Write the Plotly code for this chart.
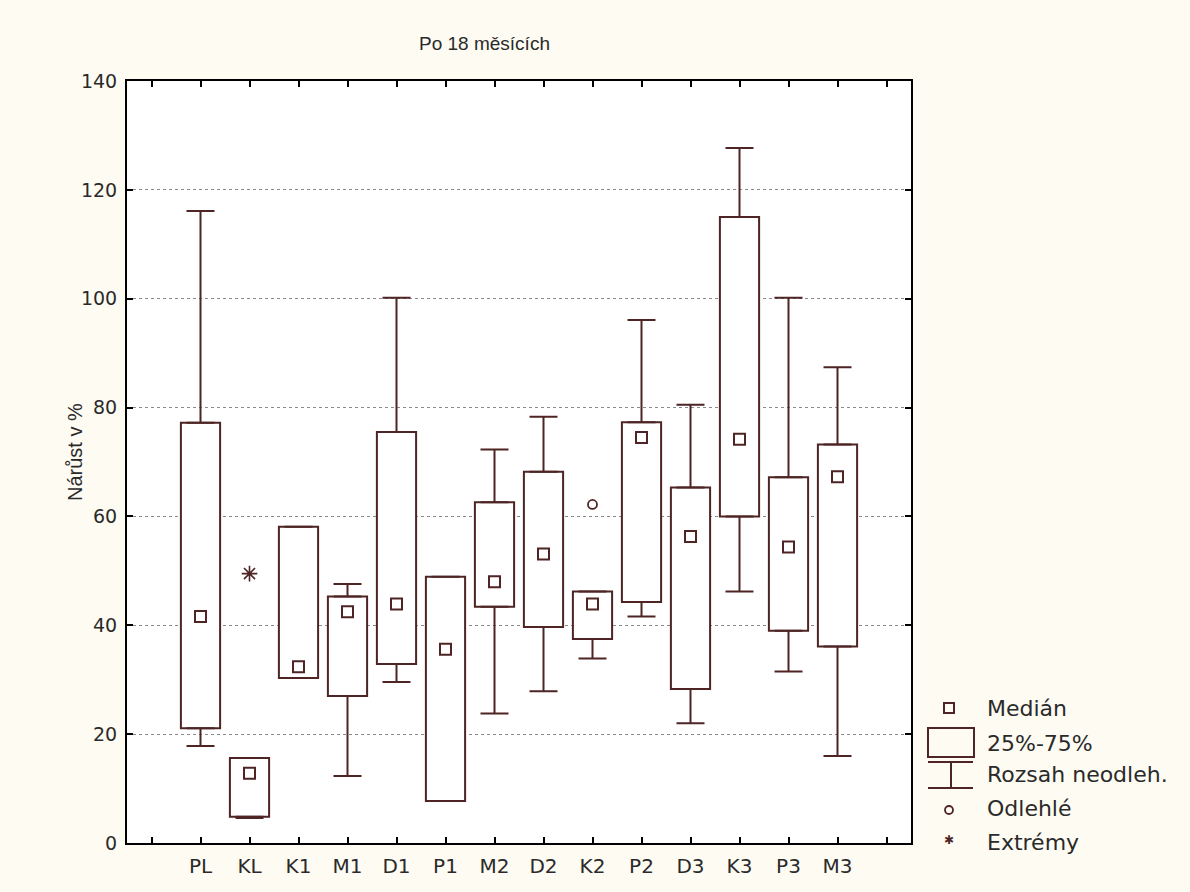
import plotly.graph_objects as go

# Box-plot summary per group: growth after 18 months (%)
categories = ["PL", "KL", "K1", "M1", "D1", "P1", "M2", "D2", "K2", "P2", "D3", "K3", "P3", "M3"]
medians = [41.6, 12.8, 32.4, 42.5, 43.9, 35.6, 48.0, 53.1, 43.9, 74.5, 56.3, 74.2, 54.4, 67.3]
q1 = [21.1, 4.8, 30.3, 27.0, 32.9, 7.7, 43.4, 39.7, 37.5, 44.3, 28.3, 60.0, 39.0, 36.1]
q3 = [77.2, 15.6, 58.1, 45.3, 75.5, 48.9, 62.6, 68.2, 46.2, 77.3, 65.3, 115.0, 67.2, 73.2]
whisker_low = [17.8, 4.6, 30.3, 12.3, 29.6, 7.7, 23.8, 27.9, 33.9, 41.6, 22.0, 46.2, 31.5, 16.0]
whisker_high = [116.1, 15.6, 58.1, 47.6, 100.2, 48.9, 72.3, 78.3, 46.2, 96.1, 80.5, 127.7, 100.2, 87.4]
outlier_groups = ["K2"]
outlier_values = [62.2]
extreme_groups = ["KL"]
extreme_values = [49.5]

y_ticks = [0, 20, 40, 60, 80, 100, 120, 140]
legend_labels = ["Medián", "25%-75%", "Rozsah neodleh.", "Odlehlé", "Extrémy"]

LINE = "#4e2424"
FONT = "DejaVu Sans"
TITLE_FONT = "Liberation Sans"
TEXT = "#2a2a2a"

pos = list(range(len(categories)))
pos_of = {c: i for i, c in enumerate(categories)}

fig = go.Figure()

# interquartile boxes
fig.add_trace(go.Bar(
    x=pos, y=[b - a for a, b in zip(q1, q3)], base=q1, width=0.8,
    marker=dict(color="white", line=dict(color=LINE, width=2)),
    hoverinfo="skip", showlegend=False,
))

transparent = dict(color="rgba(0,0,0,0)", size=1)
# upper whiskers
fig.add_trace(go.Scatter(
    x=pos, y=q3, mode="markers", marker=transparent, showlegend=False, hoverinfo="skip",
    error_y=dict(type="data", symmetric=False,
                 array=[h - b for h, b in zip(whisker_high, q3)],
                 arrayminus=[0] * len(pos), width=14, thickness=2, color=LINE),
))
# lower whiskers
fig.add_trace(go.Scatter(
    x=pos, y=q1, mode="markers", marker=transparent, showlegend=False, hoverinfo="skip",
    error_y=dict(type="data", symmetric=False, array=[0] * len(pos),
                 arrayminus=[a - l for a, l in zip(q1, whisker_low)],
                 width=14, thickness=2, color=LINE),
))
# medians
fig.add_trace(go.Scatter(
    x=pos, y=medians, mode="markers", showlegend=False, hoverinfo="skip",
    marker=dict(symbol="square-open", size=11, color=LINE, line=dict(width=2, color=LINE)),
))
# outliers and extremes
fig.add_trace(go.Scatter(
    x=[pos_of[g] for g in outlier_groups], y=outlier_values, mode="markers",
    showlegend=False, hoverinfo="skip",
    marker=dict(symbol="circle-open", size=9, color=LINE, line=dict(width=1.8, color=LINE)),
))
fig.add_trace(go.Scatter(
    x=[pos_of[g] for g in extreme_groups], y=extreme_values, mode="markers",
    showlegend=False, hoverinfo="skip",
    marker=dict(symbol="asterisk-open", size=13, color=LINE, line=dict(width=1.6, color=LINE)),
))

# plot area in pixels: x 127..911, y 81..843
L, R, T, B = 127, 911, 81, 843
W, H = R - L, B - T


def px(x):
    return (x - L) / W


def py(y):
    return (B - y) / H


shapes = []
annotations = []
# legend symbols
shapes.append(dict(type="rect", xref="paper", yref="paper", x0=px(944), x1=px(954),
                   y0=py(713), y1=py(703), line=dict(color=LINE, width=2)))
shapes.append(dict(type="rect", xref="paper", yref="paper", x0=px(928), x1=px(974),
                   y0=py(757), y1=py(728), line=dict(color=LINE, width=2)))
for yy in (762, 788):
    shapes.append(dict(type="line", xref="paper", yref="paper", x0=px(928), x1=px(973),
                       y0=py(yy), y1=py(yy), line=dict(color=LINE, width=2)))
shapes.append(dict(type="line", xref="paper", yref="paper", x0=px(951), x1=px(951),
                   y0=py(762), y1=py(788), line=dict(color=LINE, width=2)))
shapes.append(dict(type="circle", xref="paper", yref="paper", x0=px(945), x1=px(953),
                   y0=py(814), y1=py(806), line=dict(color=LINE, width=1.8)))
annotations.append(dict(text="✱", xref="paper", yref="paper", x=px(949), y=py(840),
                        xanchor="center", yanchor="middle",
                        showarrow=False, font=dict(family=FONT, size=12, color=LINE)))

for lab, yy in zip(legend_labels, [708, 743, 774, 808, 842]):
    annotations.append(dict(text=lab, xref="paper", yref="paper", x=px(985), y=py(yy),
                            xanchor="left", yanchor="middle", showarrow=False,
                            font=dict(family=FONT, size=22, color=TEXT)))

# title and y-axis title
annotations.append(dict(text="Po 18 měsících", xref="paper", yref="paper", x=px(484), y=py(43),
                        xanchor="center", yanchor="middle",
                        showarrow=False, font=dict(family=TITLE_FONT, size=19, color=TEXT)))
annotations.append(dict(text="Nárůst v %", xref="paper", yref="paper", x=px(75), y=py(452),
                        xanchor="center", yanchor="middle",
                        textangle=-90, showarrow=False, font=dict(family=TITLE_FONT, size=20, color=TEXT)))

fig.update_layout(
    width=1190, height=892,
    margin=dict(l=L, r=1190 - R, t=T, b=892 - B),
    paper_bgcolor="#fefbf3", plot_bgcolor="white",
    shapes=shapes, annotations=annotations, showlegend=False,
    font=dict(family=FONT, size=20, color=TEXT),
)
fig.update_xaxes(
    range=[-1.5, 14.5], tickvals=list(range(-1, 15)),
    ticktext=[""] + categories + [""],
    ticks="inside", ticklen=6, tickwidth=2, tickcolor="black",
    showline=True, linecolor="black", linewidth=2, mirror="ticks",
    showgrid=False, zeroline=False, ticklabelstandoff=4,
    tickfont=dict(family=FONT, size=20, color=TEXT),
)
fig.update_yaxes(
    range=[0, 140], tickvals=y_ticks,
    ticks="inside", ticklen=6, tickwidth=2, tickcolor="black",
    showline=True, linecolor="black", linewidth=2, mirror="ticks",
    showgrid=True, gridcolor="#8a8a8a", griddash="dot", gridwidth=1,
    zeroline=False, ticklabelstandoff=4,
    tickfont=dict(family=FONT, size=19, color=TEXT),
)

fig.write_html("out.html")
